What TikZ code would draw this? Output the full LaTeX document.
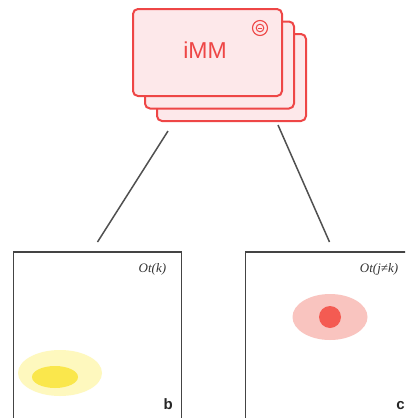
\documentclass[tikz,border=0pt]{standalone}
\usepackage{fontspec}
\setmainfont{Liberation Serif}
\setsansfont{Liberation Sans}
\usepackage{tikz}
\usetikzlibrary{positioning}
\definecolor{immred}{HTML}{EE4646}
\definecolor{immfill}{HTML}{FDE8EA}
\definecolor{panelgray}{HTML}{444444}
\definecolor{linkgray}{HTML}{505050}
\definecolor{yellowout}{HTML}{FEF8BE}
\definecolor{yellowin}{HTML}{FAE74C}
\definecolor{redout}{HTML}{F9C4BF}
\definecolor{redin}{HTML}{F45B52}
\tikzset{card/.style={draw=immred, fill=immfill, line width=2pt, rounded corners=5pt, minimum width=149pt, minimum height=87pt, inner sep=0pt},
  panel/.style={draw=panelgray, fill=white, line width=1.7pt, minimum width=168pt, minimum height=190pt, inner sep=0pt, anchor=north},
  link/.style={draw=linkgray, line width=1.5pt},
  tag/.style={font=\sffamily\bfseries\fontsize{15}{15}\selectfont, text=black!85, inner sep=0pt},
  obs/.style={font=\itshape\fontsize{13}{13}\selectfont, text=black!80, inner sep=0pt, anchor=north east}}

\begin{document}
\begin{tikzpicture}[x=1pt, y=-1pt]
      \useasboundingbox (0,0) rectangle (405,418);
      \clip (0,0) rectangle (405,418);
      \def\dx{12}
      \def\dy{12.5}
      \foreach \i in {2,1,0} {
        \node [card] (card\i) at (207.5+\dx*\i, 52.5+\dy*\i) {};
      }
      \node [text=immred, font=\sffamily\fontsize{23}{23}\selectfont, inner sep=0pt] (imm) at (205,50) {iMM};
      \draw [immred, line width=1.1pt] (260,28) circle (7.5);
      \draw [immred, line width=1pt] (260,28) circle (3.8);
      \draw [immred, line width=1pt] (258.2,28) -- (261.8,28);
      % panels
      \node [panel] (b) at (97.5,251) {};
      \node [panel] (c) at (329.5,251) {};
      \node [obs] (obsb) at ([xshift=-16pt, yshift=-12pt]b.north east) {Ot(k)};
      \node [obs] (obsc) at ([xshift=-16pt, yshift=-12pt]c.north east) {Ot(j≠k)};
      \node [tag, anchor=base east] (tagb) at (173,409) {b};
      \node [tag, anchor=base east] (tagc) at (405,409) {c};
      \fill [yellowout] (60,373) ellipse (42 and 23);
      \fill [yellowin] (55,377) ellipse (23 and 11);
      \fill [redout] (330,317) ellipse (37.5 and 23);
      \fill [redin] (330,317) circle (11);
      \coordinate (fromb) at (168,131);
      \coordinate (fromc) at (278,125);
      \draw [link] (fromb) -- ([yshift=9pt]b.north);
      \draw [link] (fromc) -- ([yshift=9pt]c.north);
    \end{tikzpicture}
\end{document}
